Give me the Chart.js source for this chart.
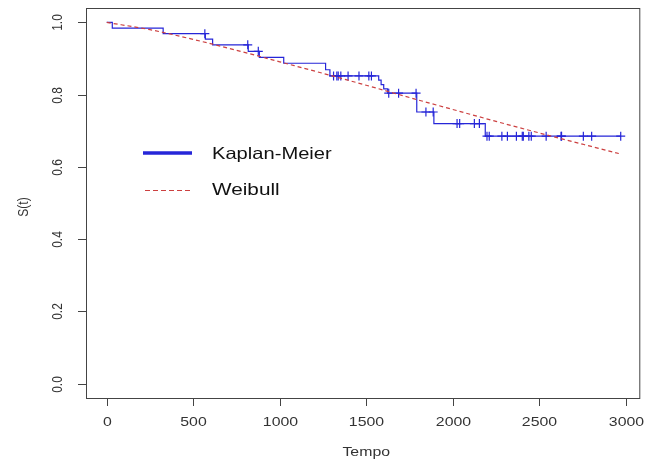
<!DOCTYPE html>
<html>
<head>
<meta charset="utf-8">
<script src="https://cdn.jsdelivr.net/npm/chart.js@4/dist/chart.umd.min.js"></script>
<style>
  html, body { margin: 0; padding: 0; background: #fff; }
</style>
</head>
<body>
<canvas id="chart" width="647" height="462"></canvas>
<script>
// Kaplan-Meier: event times and survival after each drop
const kmTime = [0, 32, 326, 570, 612, 818, 882, 1023, 1265, 1290, 1572, 1586, 1601, 1624, 1792, 1891, 2188, 2971];
const kmSurv = [1.0, 0.984, 0.969, 0.954, 0.938, 0.920, 0.903, 0.887, 0.869, 0.852, 0.840, 0.828, 0.816, 0.804, 0.752, 0.720, 0.685, 0.685];

// censored observations (+ marks)
const censorTime = [567, 815, 876, 1311, 1330, 1338, 1353, 1395, 1458, 1515, 1530, 1630, 1687, 1788, 1845, 1887,
  2025, 2040, 2125, 2154, 2198, 2211, 2284, 2316, 2368, 2402, 2408, 2440, 2454, 2540, 2626, 2629, 2755, 2803, 2971];
const censorSurv = [0.969, 0.938, 0.920, 0.852, 0.852, 0.852, 0.852, 0.852, 0.852, 0.852, 0.852, 0.804, 0.804, 0.804, 0.752, 0.752,
  0.720, 0.720, 0.720, 0.720, 0.685, 0.685, 0.685, 0.685, 0.685, 0.685, 0.685, 0.685, 0.685, 0.685, 0.685, 0.685, 0.685, 0.685, 0.685];

// Weibull curve
const weibullTime = [0, 250, 500, 750, 1000, 1250, 1500, 1750, 2000, 2250, 2500, 2750, 2960];
const weibullSurv = [1.0, 0.980, 0.953, 0.923, 0.891, 0.859, 0.826, 0.792, 0.759, 0.726, 0.694, 0.663, 0.637];

const xTicks = [0, 500, 1000, 1500, 2000, 2500, 3000];
const yTicks = [0.0, 0.2, 0.4, 0.6, 0.8, 1.0];
const legendLabels = ["Kaplan-Meier", "Weibull"];

const FONT = '"Liberation Sans", Arial, sans-serif';
const SX = 1.22; // the reference is stretched sideways
const BLUE = "#2626d8";
const RED = "#cc4040";

function drawText(ctx, text, x, y, size, align, rot) {
  ctx.save();
  ctx.translate(x, y);
  ctx.scale(SX, 1);
  if (rot) ctx.rotate(rot);
  ctx.font = size + "px " + FONT;
  ctx.textAlign = align;
  ctx.textBaseline = "middle";
  ctx.fillText(text, 0, 0);
  ctx.restore();
}

// R style box, ticks and labels
const rAxes = {
  id: "rAxes",
  afterDraw(chart) {
    const ctx = chart.ctx;
    const a = chart.chartArea;
    const xs = chart.scales.x, ys = chart.scales.y;
    ctx.save();
    ctx.strokeStyle = "#444";
    ctx.lineWidth = 1;
    ctx.strokeRect(a.left + 0.5, a.top + 0.5, a.right - a.left - 2, a.bottom - a.top);
    ctx.fillStyle = "#333";
    xTicks.forEach(v => {
      const px = Math.round(xs.getPixelForValue(v)) + 0.5;
      ctx.beginPath();
      ctx.moveTo(px, a.bottom);
      ctx.lineTo(px, a.bottom + 8);
      ctx.stroke();
      drawText(ctx, String(v), px, a.bottom + 24, 13, "center");
    });
    yTicks.forEach(v => {
      const py = Math.round(ys.getPixelForValue(v)) + 0.5;
      ctx.beginPath();
      ctx.moveTo(a.left - 8, py);
      ctx.lineTo(a.left, py);
      ctx.stroke();
      drawText(ctx, v.toFixed(1), a.left - 28, py, 12, "center", -Math.PI / 2);
    });
    drawText(ctx, "Tempo", (xs.getPixelForValue(0) + xs.getPixelForValue(3000)) / 2, a.bottom + 54, 13, "center");
    drawText(ctx, "S(t)", 24, (a.top + a.bottom) / 2 + 4, 12, "center", -Math.PI / 2);
    ctx.restore();
  }
};

// legend inside the plot
const rLegend = {
  id: "rLegend",
  afterDraw(chart) {
    const ctx = chart.ctx;
    ctx.save();
    ctx.strokeStyle = BLUE;
    ctx.lineWidth = 3.5;
    ctx.beginPath();
    ctx.moveTo(143, 153);
    ctx.lineTo(192, 153);
    ctx.stroke();
    ctx.strokeStyle = RED;
    ctx.lineWidth = 1;
    ctx.setLineDash([5, 3]);
    ctx.beginPath();
    ctx.moveTo(145, 190.5);
    ctx.lineTo(192, 190.5);
    ctx.stroke();
    ctx.setLineDash([]);
    ctx.fillStyle = "#111";
    drawText(ctx, legendLabels[0], 212, 154, 16.5, "left");
    drawText(ctx, legendLabels[1], 212, 190, 17, "left");
    ctx.restore();
  }
};

new Chart(document.getElementById("chart"), {
  type: "line",
  data: {
    datasets: [
      {
        label: legendLabels[1],
        data: weibullTime.map((t, i) => ({ x: t, y: weibullSurv[i] })),
        borderColor: RED,
        borderWidth: 1.2,
        borderDash: [4, 3],
        pointRadius: 0,
        cubicInterpolationMode: "monotone",
        order: 0,
      },
      {
        label: legendLabels[0],
        data: kmTime.map((t, i) => ({ x: t, y: kmSurv[i] })),
        borderColor: BLUE,
        borderWidth: 1.2,
        stepped: true,
        pointRadius: 0,
        order: 1,
      },
      {
        label: "censored",
        data: censorTime.map((t, i) => ({ x: t, y: censorSurv[i] })),
        showLine: false,
        pointStyle: "cross",
        pointRadius: 4.5,
        pointBorderWidth: 1.2,
        pointBorderColor: BLUE,
        order: 2,
      },
    ],
  },
  options: {
    responsive: false,
    animation: false,
    layout: { padding: { left: 86, right: 0, top: 8, bottom: 64 } },
    plugins: { legend: { display: false }, tooltip: { enabled: false } },
    scales: {
      x: { type: "linear", min: -120, max: 3090, display: false },
      y: { type: "linear", min: -0.04, max: 1.04, display: false },
    },
  },
  plugins: [rAxes, rLegend],
});
</script>
</body>
</html>
